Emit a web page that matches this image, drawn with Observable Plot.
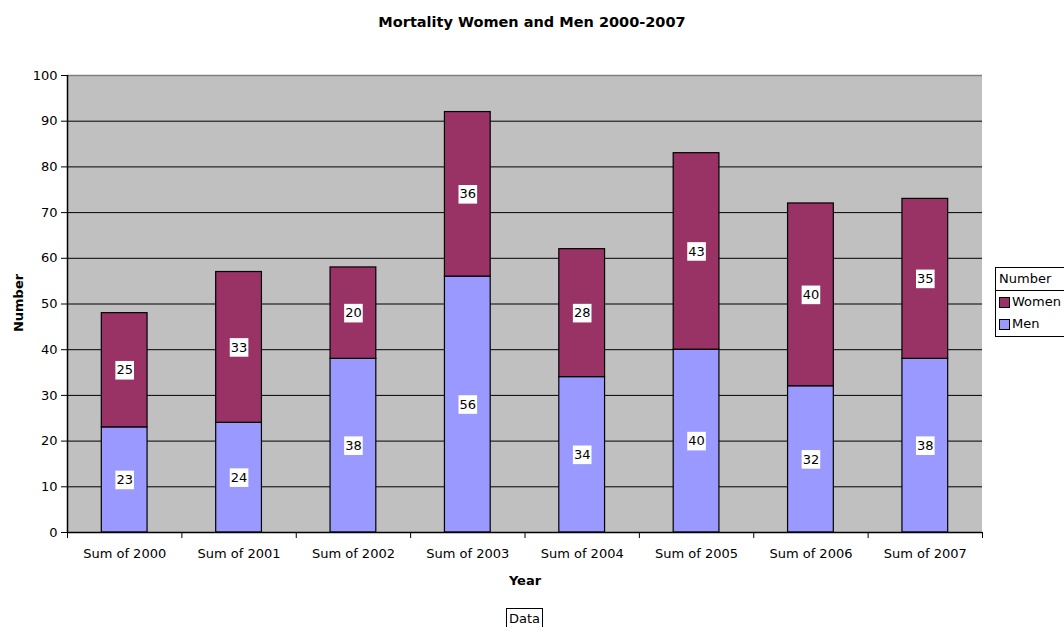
<!DOCTYPE html>
<html><head><meta charset="utf-8">
<script src="https://cdn.jsdelivr.net/npm/d3@7"></script>
<script src="https://cdn.jsdelivr.net/npm/@observablehq/plot@0.6"></script>
<style>
body{margin:0;background:#fff;font-family:"DejaVu Sans",sans-serif;}
#wrap{position:relative;width:1064px;height:627px;overflow:hidden;}
#wrap svg{position:absolute;left:0;top:0;}
.abs{position:absolute;color:#000;white-space:nowrap;}
#title{left:0;width:1064px;top:14px;text-align:center;font-weight:bold;font-size:14.5px;}
#ylab{left:18px;top:303px;transform:translate(-50%,-50%) rotate(-90deg);font-weight:bold;font-size:13px;}
#xlab{left:525px;top:580px;transform:translate(-50%,-50%);font-weight:bold;font-size:13px;}
#data{left:506px;top:608px;border:1px solid #000;padding:1px 2px 0 2px;font-size:13px;line-height:17px;}
#legend{left:995px;top:267px;width:80px;height:68px;border:1px solid #000;font-size:13px;}
#legend .hd{height:22px;line-height:22px;padding-left:3px;border-bottom:1px solid #000;}
#legend .it{height:22px;line-height:22px;padding-left:3px;display:flex;align-items:center;}
#legend .sw{width:9px;height:9px;border:1px solid #000;margin-right:2px;}
</style></head>
<body><div id="wrap"></div>
<script>
const years = ["2000","2001","2002","2003","2004","2005","2006","2007"];
const tickLabels = years.map(y => "Sum of " + y);
const men = [23,24,38,56,34,40,32,38];
const women = [25,33,20,36,28,43,40,35];
const seriesNames = ["Men","Women"];
const colors = {Men:"#9999ff", Women:"#993366"};
const yTicks = d3.range(0,101,10);

const rows = [];
years.forEach((y,i) => {
  rows.push({i, series:"Men", y1:0, y2:men[i], v:men[i]});
  rows.push({i, series:"Women", y1:men[i], y2:men[i]+women[i], v:women[i]});
});

const plot = Plot.plot({
  width:1064, height:627,
  marginLeft:67, marginRight:82, marginTop:75, marginBottom:95,
  style:{fontFamily:"DejaVu Sans", fontSize:"13px", color:"#000", background:"transparent", overflow:"visible"},
  x:{type:"linear", domain:[0,8], axis:null},
  y:{domain:[0,100], axis:null},
  marks:[
    Plot.rect([{a:0,b:8,c:0,d:100}], {x1:"a", x2:"b", y1:"c", y2:"d", fill:"#c0c0c0"}),
    Plot.ruleY(yTicks.filter(t=>t>0 && t<100), {x1:0, x2:8, stroke:"#000", strokeWidth:1}),
    Plot.ruleY([100], {x1:0, x2:8, stroke:"#808080", strokeWidth:1.5}),
    Plot.rect(rows, {x1:d=>d.i+0.3, x2:d=>d.i+0.7, y1:"y1", y2:"y2", fill:d=>colors[d.series], stroke:"#000", strokeWidth:1.2}),
    Plot.dot(rows, {x:d=>d.i+0.5, y:d=>(d.y1+d.y2)/2, symbol:"square", r:10.5, fill:"#fff", stroke:"none"}),
    Plot.text(rows, {x:d=>d.i+0.5, y:d=>(d.y1+d.y2)/2, text:d=>String(d.v), fill:"#000", fontSize:13}),
    Plot.ruleX([0], {y1:0, y2:100, stroke:"#000", strokeWidth:1.5}),
    Plot.ruleY([0], {x1:0, x2:8, stroke:"#000", strokeWidth:1.5}),
    Plot.axisY({ticks:yTicks, tickSize:6, tickPadding:4, tickFormat:d=>String(d), fontSize:13, stroke:"#000", label:null}),
    Plot.axisX({ticks:d3.range(0,9), tickSize:6, tickFormat:()=>"", stroke:"#000", label:null}),
    Plot.axisX({ticks:years.map((y,i)=>i+0.5), tickSize:0, tickPadding:16, tickFormat:(d)=>tickLabels[Math.round(d-0.5)], fontSize:13, label:null})
  ]
});
const wrap = document.getElementById("wrap");
wrap.appendChild(plot);
function add(id, html){const d=document.createElement("div");d.id=id;d.className="abs";d.innerHTML=html;wrap.appendChild(d);}
add("title","Mortality Women and Men 2000-2007");
add("ylab","Number");
add("xlab","Year");
add("data","Data");
add("legend",'<div class="hd">Number</div>' + ["Women","Men"].map(s=>`<div class="it"><span class="sw" style="background:${colors[s]}"></span>${s}</div>`).join(""));
</script></body></html>
